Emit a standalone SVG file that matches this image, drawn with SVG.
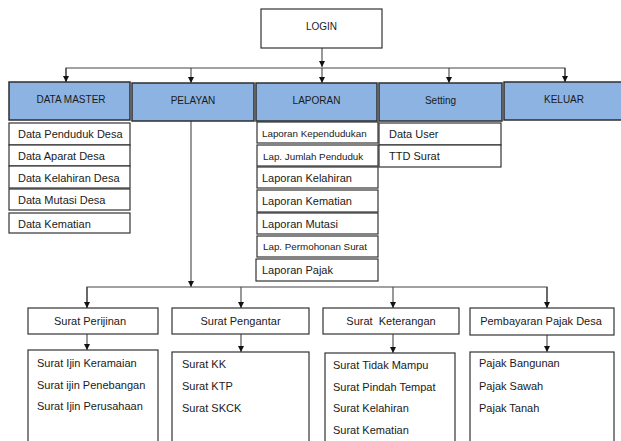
<svg xmlns="http://www.w3.org/2000/svg" width="621" height="441" viewBox="0 0 621 441">
<style>
text{font-family:"Liberation Sans",Arial,sans-serif;fill:#1a1a1a}
.t{font-size:11px}
.s{font-size:9.8px}
.h{font-size:10px;text-anchor:middle}
.c{text-anchor:middle}
.box{fill:#fff;stroke:#333;stroke-width:1.2}
.blue{fill:#8db3e2;stroke:#2e2e2e;stroke-width:1.5}
.ln{fill:none;stroke:#444;stroke-width:1.1}
</style>
<defs>
<marker id="ah" markerUnits="userSpaceOnUse" markerWidth="7" markerHeight="7" refX="6" refY="3" orient="auto">
<path d="M0,0 L6,3 L0,6 z" fill="#111"/>
</marker>
</defs>
<rect width="621" height="441" fill="#fff"/>

<g id="connectors">
<line class="ln" x1="322" y1="48" x2="322" y2="67" marker-end="url(#ah)"/>
<polyline class="ln" points="66,82 66,68 565,68 565,82"/>
<line class="ln" x1="66" y1="68" x2="66" y2="82" marker-end="url(#ah)"/>
<line class="ln" x1="191" y1="68" x2="191" y2="83" marker-end="url(#ah)"/>
<line class="ln" x1="322" y1="68" x2="322" y2="83" marker-end="url(#ah)"/>
<line class="ln" x1="449" y1="68" x2="449" y2="83" marker-end="url(#ah)"/>
<line class="ln" x1="565" y1="68" x2="565" y2="82" marker-end="url(#ah)"/>
<line class="ln" x1="191" y1="121" x2="191" y2="287" marker-end="url(#ah)"/>
<polyline class="ln" points="87,308 87,287 547,287 547,308"/>
<line class="ln" x1="87" y1="287" x2="87" y2="308" marker-end="url(#ah)"/>
<line class="ln" x1="241" y1="287" x2="241" y2="308" marker-end="url(#ah)"/>
<line class="ln" x1="393" y1="287" x2="393" y2="308" marker-end="url(#ah)"/>
<line class="ln" x1="547" y1="287" x2="547" y2="308" marker-end="url(#ah)"/>
<line class="ln" x1="87" y1="334" x2="87" y2="350" marker-end="url(#ah)"/>
<line class="ln" x1="241" y1="334" x2="241" y2="352" marker-end="url(#ah)"/>
<line class="ln" x1="393" y1="334" x2="393" y2="353" marker-end="url(#ah)"/>
<line class="ln" x1="547" y1="335" x2="547" y2="352" marker-end="url(#ah)"/>
</g>

<g id="login">
<rect class="box" x="261" y="9" width="121" height="39"/>
<text class="h" x="321.5" y="30">LOGIN</text>
</g>

<g id="data-master">
<rect class="blue" x="9" y="82" width="121" height="38"/>
<text class="h" x="71" y="103">DATA MASTER</text>
</g>
<g id="pelayan">
<rect class="blue" x="132" y="83" width="122" height="38"/>
<text class="h" x="193" y="104">PELAYAN</text>
</g>
<g id="laporan">
<rect class="blue" x="256" y="83" width="121" height="38"/>
<text class="h" x="316.5" y="104">LAPORAN</text>
</g>
<g id="setting">
<rect class="blue" x="379" y="83" width="123" height="38"/>
<text class="h" x="440.5" y="104">Setting</text>
</g>
<g id="keluar">
<rect class="blue" x="504" y="82" width="118" height="38"/>
<text class="h" x="564" y="103">KELUAR</text>
</g>

<g id="data-master-items">
<rect class="box" x="9" y="123" width="121" height="22"/>
<text class="t" x="18" y="138">Data Penduduk Desa</text>
<rect class="box" x="9" y="145" width="121" height="21"/>
<text class="t" x="18" y="160">Data Aparat Desa</text>
<rect class="box" x="9" y="166" width="121" height="22"/>
<text class="t" x="18" y="181.5">Data Kelahiran Desa</text>
<rect class="box" x="9" y="189" width="121" height="21"/>
<text class="t" x="18" y="204">Data Mutasi Desa</text>
<rect class="box" x="9" y="213" width="121" height="20"/>
<text class="t" x="18" y="227.5">Data Kematian</text>
</g>

<g id="laporan-items">
<rect class="box" x="257" y="122" width="121" height="21"/>
<text class="s" x="262" y="136.5">Laporan Kependudukan</text>
<rect class="box" x="257" y="145" width="121" height="21"/>
<text class="s" x="263" y="159.5">Lap. Jumlah Penduduk</text>
<rect class="box" x="257" y="167" width="121" height="21"/>
<text class="t" x="262" y="181.5">Laporan Kelahiran</text>
<rect class="box" x="257" y="190" width="121" height="22"/>
<text class="t" x="262" y="205">Laporan Kematian</text>
<rect class="box" x="257" y="213" width="121" height="21"/>
<text class="t" x="262" y="227.5">Laporan Mutasi</text>
<rect class="box" x="257" y="236" width="121" height="21"/>
<text class="s" x="263" y="250">Lap. Permohonan Surat</text>
<rect class="box" x="256" y="259" width="122" height="22"/>
<text class="t" x="262" y="274">Laporan Pajak</text>
</g>

<g id="setting-items">
<rect class="box" x="379" y="123" width="122" height="22"/>
<text class="t" x="389" y="138">Data User</text>
<rect class="box" x="379" y="145" width="122" height="22"/>
<text class="t" x="389" y="160">TTD Surat</text>
</g>

<g id="surat-perijinan">
<rect class="box" x="28" y="308" width="130" height="26"/>
<text class="t c" x="90" y="324.5">Surat Perijinan</text>
<rect class="box" x="28" y="350" width="130" height="100"/>
<text class="t" x="37" y="367">Surat Ijin Keramaian</text>
<text class="t" x="37" y="389">Surat ijin Penebangan</text>
<text class="t" x="37" y="410">Surat Ijin Perusahaan</text>
</g>

<g id="surat-pengantar">
<rect class="box" x="172" y="308" width="137" height="26"/>
<text class="t c" x="240.5" y="324.5">Surat Pengantar</text>
<rect class="box" x="172" y="352" width="137" height="98"/>
<text class="t" x="182" y="368">Surat KK</text>
<text class="t" x="182" y="390">Surat KTP</text>
<text class="t" x="182" y="412">Surat SKCK</text>
</g>

<g id="surat-keterangan">
<rect class="box" x="323" y="308" width="136" height="26"/>
<text class="t c" x="391" y="324.5" xml:space="preserve">Surat  Keterangan</text>
<rect class="box" x="325" y="353" width="130" height="97"/>
<text class="t" x="333" y="369">Surat Tidak Mampu</text>
<text class="t" x="333" y="391">Surat Pindah Tempat</text>
<text class="t" x="333" y="412">Surat Kelahiran</text>
<text class="t" x="333" y="434">Surat Kematian</text>
</g>

<g id="pembayaran-pajak">
<rect class="box" x="470" y="308" width="144" height="27"/>
<text class="t c" x="541" y="325">Pembayaran Pajak Desa</text>
<rect class="box" x="470" y="352" width="144" height="98"/>
<text class="t" x="479" y="367">Pajak Bangunan</text>
<text class="t" x="479" y="390">Pajak Sawah</text>
<text class="t" x="479" y="412">Pajak Tanah</text>
</g>
</svg>
